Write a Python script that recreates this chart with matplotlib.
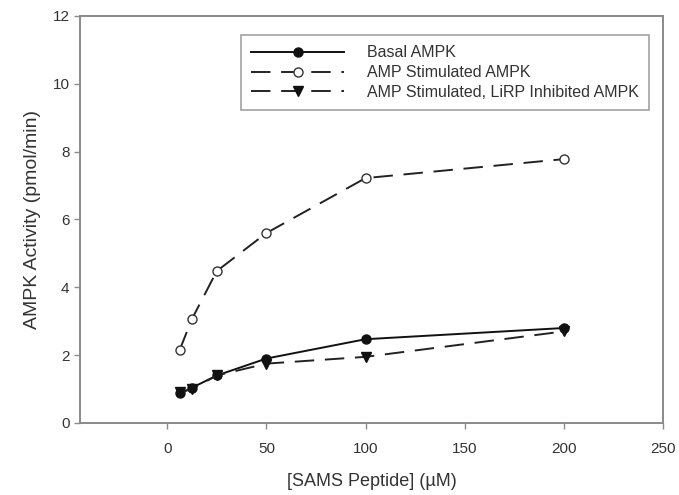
import matplotlib.pyplot as plt

plt.rcParams['font.family'] = ['Liberation Sans', 'DejaVu Sans']

# SAMS peptide concentrations (uM)
conc = [6.25, 12.5, 25, 50, 100, 200]

# AMPK activity (pmol/min)
basal = [0.87, 1.04, 1.40, 1.90, 2.47, 2.80]
amp_stim = [2.15, 3.07, 4.48, 5.60, 7.22, 7.78]
amp_lirp = [0.90, 1.00, 1.40, 1.75, 1.95, 2.70]

labels = ["Basal AMPK", "AMP Stimulated AMPK", "AMP Stimulated, LiRP Inhibited AMPK"]

fig = plt.figure(figsize=(6.79, 4.95), dpi=100)
ax = fig.add_axes([0.1178, 0.1455, 0.8586, 0.8222])

ax.plot(conc, basal, '-', color='#111111', lw=1.4, marker='o', ms=6.5,
        mfc='#111111', mec='#111111', label=labels[0])
ax.plot(conc, amp_stim, '--', color='#222222', lw=1.4, dashes=(10, 5.5), marker='o', ms=6.5,
        mfc='white', mec='#333333', mew=1.0, label=labels[1])
ax.plot(conc, amp_lirp, '--', color='#222222', lw=1.4, dashes=(10, 5.5), marker='v', ms=6.5,
        mfc='#111111', mec='#111111', label=labels[2])

ax.set_xlim(-44, 250)
ax.set_ylim(0, 12)
ax.set_xticks([0, 50, 100, 150, 200, 250])
ax.set_yticks([0, 2, 4, 6, 8, 10, 12])

for s in ax.spines.values():
    s.set_color('#8a8a8a')
    s.set_linewidth(1.4)

ax.tick_params(axis='both', colors='#8a8a8a', labelcolor='#333333',
               labelsize=11, length=4, width=1.0)
ax.tick_params(axis='x', pad=10)

ax.set_xlabel("[SAMS Peptide] (\u00b5M)", fontsize=13, color='#333333', labelpad=12)
ax.set_ylabel("AMPK Activity (pmol/min)", fontsize=14, color='#333333', labelpad=8)

leg = ax.legend(loc='upper left', bbox_to_anchor=(0.276, 0.953), handlelength=5.8,
                handletextpad=1.45, fontsize=11.5, frameon=True, fancybox=False,
                borderpad=0.65, labelspacing=0.3, borderaxespad=0)
leg.get_frame().set_edgecolor('#8a8a8a')
leg.get_frame().set_linewidth(1.2)
for t in leg.get_texts():
    t.set_color('#333333')

fig.savefig('out.png', dpi=100)
